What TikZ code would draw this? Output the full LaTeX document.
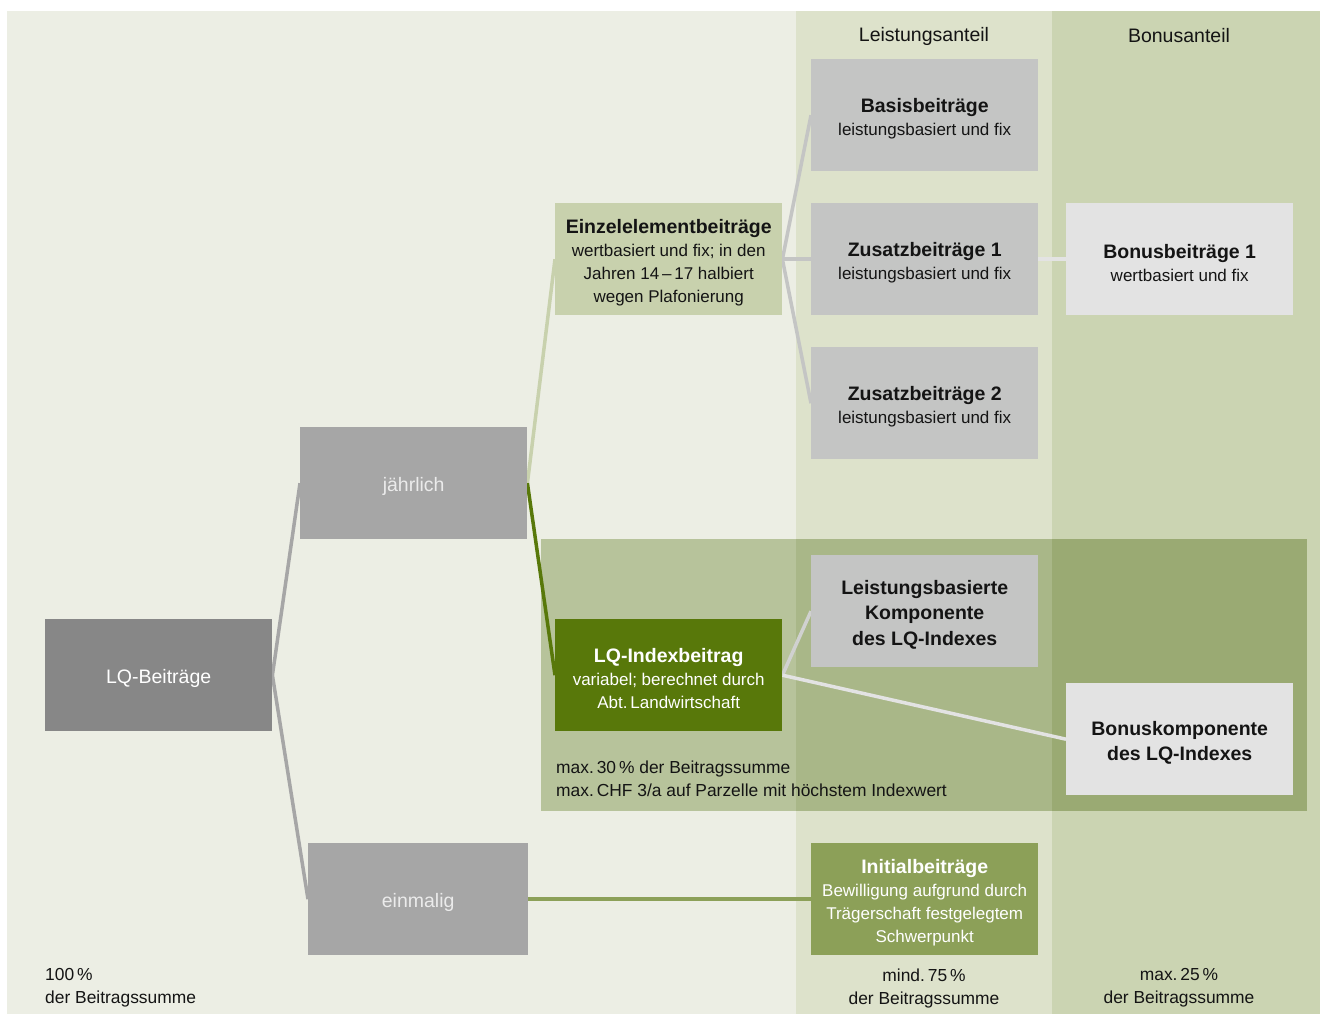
\documentclass[tikz,border=0pt]{standalone}
\usepackage{fontspec}
\setmainfont{Liberation Sans}
\pgfdeclarelayer{bgl}
\pgfdeclarelayer{lnl}
\pgfsetlayers{bgl,lnl,main}
\definecolor{bgmain}{HTML}{ECEEE4}
\definecolor{bgleist}{HTML}{DDE2CB}
\definecolor{bgbonus}{HTML}{CBD4B2}
\definecolor{ovmain}{HTML}{B7C39B}
\definecolor{ovleist}{HTML}{A9B788}
\definecolor{ovbonus}{HTML}{9AAA73}
\definecolor{gdark}{HTML}{878787}
\definecolor{gmid}{HTML}{A6A6A6}
\definecolor{glight}{HTML}{C4C5C4}
\definecolor{gpale}{HTML}{E3E3E3}
\definecolor{olive}{HTML}{C8D1AD}
\definecolor{lqgreen}{HTML}{58780A}
\definecolor{initgreen}{HTML}{8CA058}
\definecolor{txt}{HTML}{141414}
\newcommand{\ttl}{\fontsize{19.5}{23}\selectfont\bfseries}
\newcommand{\sbt}{\fontsize{17}{23}\selectfont}
\newcommand{\upst}{\rule{0pt}{21pt}}
\tikzset{
  box/.style={anchor=north west, minimum width=227pt, minimum height=112pt, inner sep=0pt,
    align=center, text=txt, font=\sbt},
  conn/.style={line width=3.5pt},
  lbl/.style={inner sep=0pt, text=txt, font=\fontsize{17.4}{23}\selectfont}
}
\begin{document}
\begin{tikzpicture}[x=1pt,y=-1pt]
\useasboundingbox (0,0) rectangle (1320,1014);
\begin{pgfonlayer}{bgl}
\fill[white] (0,0) rectangle (1320,1014);
\fill[bgmain] (7,11) rectangle (796,1014);
\fill[bgleist] (796,11) rectangle (1052,1014);
\fill[bgbonus] (1052,11) rectangle (1320,1014);
\fill[ovmain] (541,539) rectangle (796,811);
\fill[ovleist] (796,539) rectangle (1052,811);
\fill[ovbonus] (1052,539) rectangle (1307,811);
\end{pgfonlayer}

% headers
\node[lbl, font=\fontsize{19.5}{23}\selectfont] (hL) at (924,36) {Leistungsanteil};
\node[lbl, font=\fontsize{19.5}{23}\selectfont] (hB) at (1179,36) {Bonusanteil};

% boxes
\node[box, fill=gdark, text=white, font=\fontsize{19.5}{23}\selectfont] (lq) at (45,619) {\upst LQ-Beiträge};
\node[box, fill=gmid, text=white!92!black, font=\fontsize{19.5}{23}\selectfont] (jahr) at (300,427) {\upst jährlich};
\node[box, fill=gmid, text=white!92!black, font=\fontsize{19.5}{23}\selectfont, minimum width=220pt] (einm) at (308,843) {\upst einmalig};
\node[box, fill=olive] (einz) at (555,203) {{\ttl\upst Einzelelementbeiträge}\\wertbasiert und fix; in den\\Jahren 14\,–\,17 halbiert\\wegen Plafonierung};
\node[box, fill=lqgreen, text=white] (lqi) at (555,619) {{\ttl\upst LQ-Indexbeitrag}\\variabel; berechnet durch\\Abt.\,Landwirtschaft};
\node[box, fill=glight] (basis) at (811,59) {{\ttl\upst Basisbeiträge}\\leistungsbasiert und fix};
\node[box, fill=glight] (zus1) at (811,203) {{\ttl\upst Zusatzbeiträge 1}\\leistungsbasiert und fix};
\node[box, fill=glight] (zus2) at (811,347) {{\ttl\upst Zusatzbeiträge 2}\\leistungsbasiert und fix};
\node[box, fill=glight, font=\fontsize{19.5}{25.5}\selectfont\bfseries] (lbk) at (811,555) {\upst Leistungsbasierte\\Komponente\\des LQ-Indexes};
\node[box, fill=initgreen, text=white] (init) at (811,843) {{\ttl\upst Initialbeiträge}\\Bewilligung aufgrund durch\\Trägerschaft festgelegtem\\Schwerpunkt};
\node[box, fill=gpale] (bon1) at (1066,203) {{\ttl\upst Bonusbeiträge 1}\\wertbasiert und fix};
\node[box, fill=gpale, font=\fontsize{19.5}{25.5}\selectfont\bfseries] (bonk) at (1066,683) {\upst Bonuskomponente\\des LQ-Indexes};

% notes
\node[lbl, anchor=west, align=left] (n30) at (556,779) {max.\,30\,\% der Beitragssumme\\max.\,CHF 3/a auf Parzelle mit höchstem Indexwert};
\node[lbl, anchor=west, align=left] (n100) at (45,988) {100\,\%\\der Beitragssumme};
\node[lbl, align=center] (n75) at (924,988) {mind.\,75\,\%\\der Beitragssumme};
\node[lbl, align=center] (n25) at (1179,988) {max.\,25\,\%\\der Beitragssumme};

% connectors
\begin{pgfonlayer}{lnl}
\draw[conn, gmid] (lq.east) -- (jahr.west);
\draw[conn, gmid] (lq.east) -- (einm.west);
\draw[conn, olive] (jahr.east) -- (einz.west);
\draw[conn, lqgreen] (jahr.east) -- (lqi.west);
\draw[conn, initgreen] (einm.east) -- (init.west);
\draw[conn, glight] (einz.east) -- (basis.west);
\draw[conn, glight] (einz.east) -- (zus1.west);
\draw[conn, glight] (einz.east) -- (zus2.west);
\draw[conn, gpale] (zus1.east) -- (bon1.west);
\draw[conn, glight!80!white] (lqi.east) -- (lbk.west);
\draw[conn, gpale] (lqi.east) -- (bonk.west);
\end{pgfonlayer}
\end{tikzpicture}
\end{document}
